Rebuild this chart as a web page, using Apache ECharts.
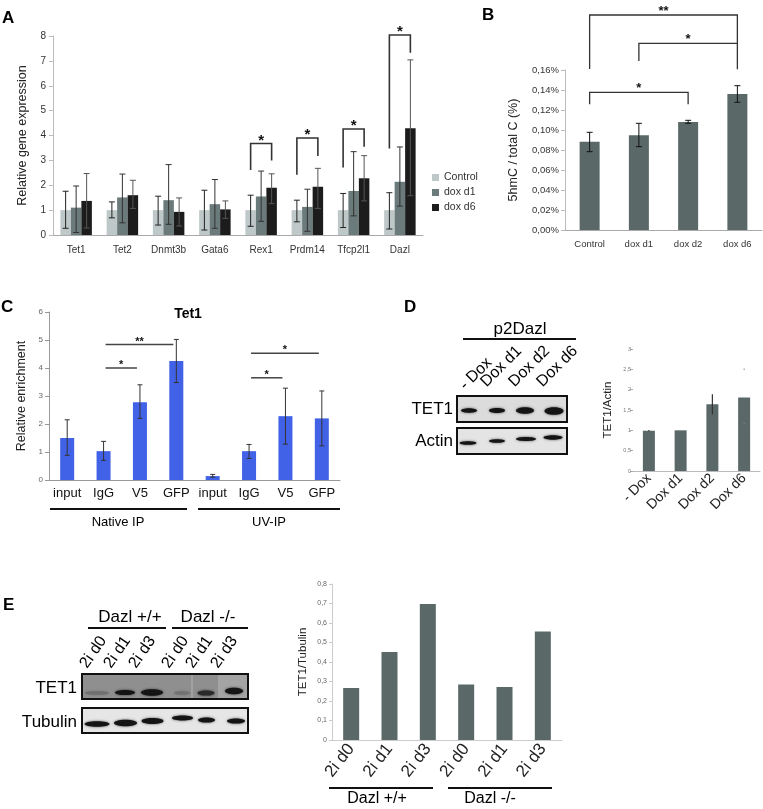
<!DOCTYPE html>
<html><head><meta charset="utf-8">
<script src="https://cdn.jsdelivr.net/npm/echarts@6/dist/echarts.min.js"></script>
<style>html,body{margin:0;padding:0;background:#fff}#c{width:763px;height:809px}</style>
</head><body><div id="c"></div>
<script>
// ---------- DATA ----------
// Panel A
const catA = ['Tet1','Tet2','Dnmt3b','Gata6','Rex1','Prdm14','Tfcp2l1','Dazl'];
const namesA = ['Control','dox d1','dox d6'];
const aCtrl   = [1, 1, 1, 1, 1, 1, 1, 1];
const aCtrlLo = [0.27,0.69,0.40,0.20,0.35,0.53,0.30,0.24];
const aCtrlHi = [1.76,1.33,1.56,1.80,1.60,1.40,1.67,1.70];
const aD1     = [1.10,1.51,1.40,1.24,1.55,1.13,1.77,2.14];
const aD1Lo   = [0.10,0.49,0.43,0.27,0.55,0.15,0.77,1.16];
const aD1Hi   = [1.97,2.45,2.83,2.23,2.57,1.84,3.35,3.54];
const aD6     = [1.37,1.60,0.93,1.03,1.90,1.94,2.28,4.29];
const aD6Lo   = [0.28,1.07,0.36,0.67,1.26,1.07,1.37,1.58];
const aD6Hi   = [2.47,2.20,1.49,1.37,2.46,2.68,3.19,7.04];
// brackets: [category, top, left leg end, right leg end, label]
const aSig = [[4,3.68,2.61,3.00,'*'],[5,3.90,2.42,3.18,'*'],[6,4.26,2.71,3.55,'*'],[7,8.04,3.48,7.33,'*']];

// Panel B (values in %)
const catB = ['Control','dox d1','dox d2','dox d6'];
const bVal = [0.0883,0.0947,0.1080,0.1360];
const bLo  = [0.0783,0.0833,0.1067,0.1277];
const bHi  = [0.0977,0.1067,0.1097,0.1443];
// [left cat, right cat, top, left leg end, right leg end, label]
const bSig = [[0,3,0.2150,0.1610,0.1867,'**'],[1,3,0.1867,0.1690,0.1607,'*'],[0,2,0.1377,0.1257,0.1257,'*']];

// Panel C
const titleC = 'Tet1';
const catC = ['input','IgG','V5','GFP','input','IgG','V5','GFP'];
const cVal = [1.50,1.03,2.78,4.25,0.14,1.03,2.28,2.20];
const cLo  = [0.88,0.70,2.20,3.48,0.10,0.77,1.28,1.22];
const cHi  = [2.15,1.38,3.40,5.02,0.20,1.27,3.28,3.18];
// [left cat, right cat, level, label]
const cSig = [[1,2,4.00,'*'],[1,3,4.84,'**'],[5,6,3.65,'*'],[5,7,4.53,'*']];
const cGroups = ['Native IP','UV-IP'];

// Panel D
const blotD = 'p2Dazl';
const catD = ['- Dox','Dox d1','Dox d2','Dox d6'];
const dVal = [0.99,1.00,1.64,1.81];
const dLo  = [0.98,1.00,1.39,1.15];
const dHi  = [1.01,1.00,1.89,2.52];
const dBlotRows = ['TET1','Actin'];

// Panel E
const catE = ['2i d0','2i d1','2i d3','2i d0','2i d1','2i d3'];
const eVal = [0.267,0.451,0.697,0.285,0.272,0.557];
const eGroups = ['Dazl +/+','Dazl -/-'];
const eBlotRows = ['TET1','Tubulin'];

// ---------- STYLE ----------
const FONT = 'Liberation Sans, Arial, sans-serif';
const colA = ['#bfc8c8','#6b7a7a','#1c1c1c'];
const GREY = '#5b6868';
const BLUE = '#4161e6';
const BW_A = 10.5;
const comma = (v, d) => v.toFixed(d).replace('.', ',');

function errRender(offset, cap, color, lw, faintIdx) {
  return function (params, api) {
    const i = api.value(0);
    const lo = api.coord([i, api.value(1)]);
    const hi = api.coord([i, api.value(2)]);
    const x = lo[0] + offset;
    const st = {stroke: color, lineWidth: lw};
    if (faintIdx === params.dataIndex) {
      return {type: 'group', children: [
        {type: 'line', shape: {x1: x, y1: hi[1], x2: x, y2: hi[1] + 1.5}, style: {stroke: '#888', lineWidth: 1}},
        {type: 'line', shape: {x1: x, y1: lo[1], x2: x, y2: lo[1] - 1.5}, style: {stroke: '#888', lineWidth: 1}}
      ]};
    }
    const ch = [{type: 'line', shape: {x1: x, y1: lo[1], x2: x, y2: hi[1]}, style: st}];
    if (cap > 0) {
      ch.push({type: 'line', shape: {x1: x - cap / 2, y1: hi[1], x2: x + cap / 2, y2: hi[1]}, style: st});
      ch.push({type: 'line', shape: {x1: x - cap / 2, y1: lo[1], x2: x + cap / 2, y2: lo[1]}, style: st});
    }
    return {type: 'group', children: ch};
  };
}
function errSeries(idx, lo, hi, offset, cap, color, lw, faintIdx) {
  return {type: 'custom', xAxisIndex: idx, yAxisIndex: idx, silent: true, z: 5,
    encode: {x: 0, y: [1, 2]},
    data: lo.map((v, i) => [i, v, hi[i]]),
    renderItem: errRender(offset, cap, color, lw, faintIdx)};
}
function txt(x, y, text, font, align, valign, fill, rot) {
  return {type: 'text', x: x, y: y, rotation: rot || 0, silent: true,
    style: {text: text, font: font, fill: fill || '#000',
      textAlign: align || 'center', textVerticalAlign: valign || 'middle',
      align: align || 'center', verticalAlign: valign || 'middle'}};
}
function line(x1, y1, x2, y2, lw, c) {
  return {type: 'line', silent: true, shape: {x1, y1, x2, y2}, style: {stroke: c || '#111', lineWidth: lw || 2}};
}
function rect(x, y, w, h, fill, stroke, lw) {
  return {type: 'rect', silent: true, shape: {x, y, width: w, height: h},
    style: {fill: fill, stroke: stroke || null, lineWidth: lw || 0}};
}
function band(cx, cy, rx, ry, c) {
  return {type: 'ellipse', silent: true, shape: {cx, cy, rx, ry},
    style: {fill: c || '#141414', shadowBlur: 2.5, shadowColor: c || 'rgba(0,0,0,0.7)'}};
}

function axisBase(o) {
  return Object.assign({splitLine: {show: false}}, o);
}

// ---------- OPTION ----------
const grids = [
  {left: 53, top: 36, width: 370, height: 199},
  {left: 565, top: 70, width: 197, height: 160},
  {left: 49, top: 312, width: 291, height: 168},
  {left: 633, top: 349, width: 127, height: 122},
  {left: 332, top: 584, width: 230, height: 156}
].map(g => Object.assign({containLabel: false, outerBoundsMode: 'none'}, g));

const xAxes = [
  axisBase({gridIndex: 0, type: 'category', data: catA,
    axisLine: {lineStyle: {color: '#aaa'}}, axisTick: {length: 4, lineStyle: {color: '#aaa'}},
    axisLabel: {interval: 0, fontSize: 10, color: '#333', margin: 10, fontFamily: FONT}}),
  axisBase({gridIndex: 1, type: 'category', data: catB,
    axisLine: {lineStyle: {color: '#aaa'}}, axisTick: {length: 4, lineStyle: {color: '#aaa'}},
    axisLabel: {interval: 0, fontSize: 9.5, color: '#333', margin: 9, fontFamily: FONT}}),
  axisBase({gridIndex: 2, type: 'category', data: catC,
    axisLine: {lineStyle: {color: '#999'}}, axisTick: {length: 4, lineStyle: {color: '#999'}},
    axisLabel: {interval: 0, fontSize: 13, color: '#111', margin: 7, fontFamily: FONT}}),
  axisBase({gridIndex: 3, type: 'category', data: catD,
    axisLine: {lineStyle: {color: '#bbb'}}, axisTick: {length: 3, lineStyle: {color: '#bbb'}},
    axisLabel: {interval: 0, rotate: 45, fontSize: 14, color: '#222', margin: 5, fontFamily: FONT}}),
  axisBase({gridIndex: 4, type: 'category', data: catE,
    axisLine: {lineStyle: {color: '#ccc'}}, axisTick: {length: 3, lineStyle: {color: '#ccc'}},
    axisLabel: {interval: 0, rotate: 52, fontSize: 17, color: '#222', margin: 6, fontFamily: FONT}})
];
const yAxes = [
  axisBase({gridIndex: 0, type: 'value', min: 0, max: 8, interval: 1,
    axisLine: {show: true, lineStyle: {color: '#bbb'}}, axisTick: {show: true, length: 4, lineStyle: {color: '#bbb'}},
    axisLabel: {fontSize: 10, color: '#333', margin: 7, fontFamily: FONT},
    name: 'Relative gene expression', nameLocation: 'middle', nameGap: 24, nameRotate: 90,
    nameTextStyle: {fontSize: 12.5, color: '#222', fontFamily: FONT}}),
  axisBase({gridIndex: 1, type: 'value', min: 0, max: 0.16, interval: 0.02,
    axisLine: {show: true, lineStyle: {color: '#bbb'}}, axisTick: {show: true, length: 4, lineStyle: {color: '#bbb'}},
    axisLabel: {fontSize: 9.5, color: '#333', margin: 6, fontFamily: FONT, formatter: v => comma(v, 2) + '%'},
    name: '5hmC / total C (%)', nameLocation: 'middle', nameGap: 45, nameRotate: 90,
    nameTextStyle: {fontSize: 12.5, color: '#222', fontFamily: FONT}}),
  axisBase({gridIndex: 2, type: 'value', min: 0, max: 6, interval: 1,
    axisLine: {show: true, lineStyle: {color: '#999'}}, axisTick: {show: true, length: 4, lineStyle: {color: '#999'}},
    axisLabel: {fontSize: 8, color: '#666', margin: 6, fontFamily: FONT},
    name: 'Relative enrichment', nameLocation: 'middle', nameGap: 21, nameRotate: 90,
    nameTextStyle: {fontSize: 12.5, color: '#222', fontFamily: FONT}}),
  axisBase({gridIndex: 3, type: 'value', min: 0, max: 3, interval: 0.5,
    axisLine: {show: false}, axisTick: {show: true, length: 3, lineStyle: {color: '#aaa'}},
    axisLabel: {fontSize: 5.5, color: '#777', margin: 2, fontFamily: FONT,
      formatter: v => Number.isInteger(v) ? String(v) : comma(v, 1)},
    name: 'TET1/Actin', nameLocation: 'middle', nameGap: 19, nameRotate: 90,
    nameTextStyle: {fontSize: 11.5, color: '#222', fontFamily: FONT}}),
  axisBase({gridIndex: 4, type: 'value', min: 0, max: 0.8, interval: 0.1,
    axisLine: {show: true, lineStyle: {color: '#ccc'}}, axisTick: {show: true, length: 3, lineStyle: {color: '#ccc'}},
    axisLabel: {fontSize: 7, color: '#666', margin: 5, fontFamily: FONT,
      formatter: v => v === 0 ? '0' : comma(v, 1)},
    name: 'TET1/Tubulin', nameLocation: 'middle', nameGap: 23, nameRotate: 90,
    nameTextStyle: {fontSize: 11.5, color: '#222', fontFamily: FONT}})
];

const series = [];
// A bars
[aCtrl, aD1, aD6].forEach((d, k) => series.push({
  type: 'bar', name: namesA[k], xAxisIndex: 0, yAxisIndex: 0, data: d,
  barWidth: BW_A, barGap: '0%', itemStyle: {color: colA[k]}, silent: true}));
series.push(errSeries(0, aCtrlLo, aCtrlHi, -BW_A, 6, '#222', 1));
series.push(errSeries(0, aD1Lo, aD1Hi, 0, 6, '#333', 1));
series.push(errSeries(0, aD6Lo, aD6Hi, BW_A, 6, '#555', 1));
series.push({type: 'custom', xAxisIndex: 0, yAxisIndex: 0, silent: true, z: 6,
  encode: {x: 0, y: 1}, data: aSig.map(s => [s[0], s[1], s[2], s[3]]),
  renderItem: (params, api) => {
    const i = api.value(0);
    const t = api.coord([i, api.value(1)]);
    const l = api.coord([i, api.value(2)]);
    const r = api.coord([i, api.value(3)]);
    const lx = t[0] - BW_A, rx = t[0] + BW_A;
    return {type: 'group', children: [
      {type: 'polyline', shape: {points: [[lx, l[1]], [lx, t[1]], [rx, t[1]], [rx, r[1]]]},
        style: {stroke: '#333', lineWidth: 1.6, fill: null}},
      {type: 'text', style: {text: aSig[params.dataIndex][4], x: t[0], y: t[1] - 3,
        font: 'bold 15px ' + FONT, fill: '#111', textAlign: 'center', textVerticalAlign: 'middle',
        align: 'center', verticalAlign: 'middle'}}
    ]};
  }});
// B
series.push({type: 'bar', xAxisIndex: 1, yAxisIndex: 1, data: bVal, barWidth: 20,
  itemStyle: {color: GREY}, silent: true});
series.push(errSeries(1, bLo, bHi, 0, 6, '#111', 1));
series.push({type: 'custom', xAxisIndex: 1, yAxisIndex: 1, silent: true, z: 6,
  encode: {x: 0, y: 2}, data: bSig.map(s => [s[0], s[1], s[2], s[3], s[4]]),
  renderItem: (params, api) => {
    const a = api.value(0), b = api.value(1);
    const L = api.coord([a, api.value(2)]);
    const R = api.coord([b, api.value(2)]);
    const lb = api.coord([a, api.value(3)])[1];
    const rb = api.coord([b, api.value(4)])[1];
    return {type: 'group', children: [
      {type: 'polyline', shape: {points: [[L[0], lb], [L[0], L[1]], [R[0], R[1]], [R[0], rb]]},
        style: {stroke: '#333', lineWidth: 1.3, fill: null}},
      {type: 'text', style: {text: bSig[params.dataIndex][5], x: (L[0] + R[0]) / 2, y: L[1] - 4,
        font: 'bold 13px ' + FONT, fill: '#111', textAlign: 'center', textVerticalAlign: 'middle',
        align: 'center', verticalAlign: 'middle'}}
    ]};
  }});
// C
series.push({type: 'bar', xAxisIndex: 2, yAxisIndex: 2, data: cVal, barWidth: 14,
  itemStyle: {color: BLUE}, silent: true});
series.push(errSeries(2, cLo, cHi, 0, 5, '#333', 1));
series.push({type: 'custom', xAxisIndex: 2, yAxisIndex: 2, silent: true, z: 6,
  encode: {x: 0, y: 2}, data: cSig.map(s => [s[0], s[1], s[2]]),
  renderItem: (params, api) => {
    const L = api.coord([api.value(0), api.value(2)]);
    const R = api.coord([api.value(1), api.value(2)]);
    const x1 = L[0] + 2, x2 = R[0] - 3;
    return {type: 'group', children: [
      {type: 'line', shape: {x1: x1, y1: L[1], x2: x2, y2: L[1]}, style: {stroke: '#444', lineWidth: 1.5}},
      {type: 'text', style: {text: cSig[params.dataIndex][3], x: (x1 + x2) / 2, y: L[1] - 3,
        font: 'bold 11px ' + FONT, fill: '#111', textAlign: 'center', textVerticalAlign: 'middle',
        align: 'center', verticalAlign: 'middle'}}
    ]};
  }});
// D
series.push({type: 'bar', xAxisIndex: 3, yAxisIndex: 3, data: dVal, barWidth: 12,
  itemStyle: {color: GREY}, silent: true});
series.push(errSeries(3, dLo, dHi, 0, 0, '#333', 1.2, 3));
// E
series.push({type: 'bar', xAxisIndex: 4, yAxisIndex: 4, data: eVal, barWidth: 16,
  itemStyle: {color: GREY}, silent: true});

// ---------- GRAPHIC (panel letters, blots, group labels) ----------
const L16 = '16px ' + FONT, L17 = '17px ' + FONT;
const g = [];
g.push(txt(2, 18, 'A', 'bold 17px ' + FONT, 'left'));
g.push(txt(482, 15, 'B', 'bold 17px ' + FONT, 'left'));
g.push(txt(1, 307, 'C', 'bold 17px ' + FONT, 'left'));
g.push(txt(404, 307, 'D', 'bold 17px ' + FONT, 'left'));
g.push(txt(3, 605, 'E', 'bold 17px ' + FONT, 'left'));
// C title + groups
g.push(txt(188, 314, titleC, 'bold 14px ' + FONT));
g.push(line(50, 509, 187, 509, 2), line(198, 509, 340, 509, 2));
g.push(txt(118, 522, cGroups[0], '13px ' + FONT), txt(269, 522, cGroups[1], '13px ' + FONT));
// D blot
g.push(txt(520, 329, blotD, L17));
g.push(line(463, 339, 576, 339, 2));
[[468, 393], [489, 390], [517, 390], [545, 390]].forEach((p, i) =>
  g.push(txt(p[0], p[1], catD[i], L16, 'left', 'bottom', '#000', Math.PI / 4)));
g.push(rect(457, 396, 110, 26, '#dcdcdc', '#111', 2));
g.push(rect(457, 428, 110, 26, '#e4e4e4', '#111', 2));
g.push(txt(453, 409, dBlotRows[0], L17, 'right'), txt(453, 441, dBlotRows[1], L17, 'right'));
g.push(band(469, 410.5, 8, 2.3), band(497, 410.5, 8, 2.5), band(525, 410.5, 9, 3.3), band(554, 411, 9.5, 3.8));
g.push(band(468, 443, 8.5, 1.8), band(497, 441, 8, 1.8), band(526, 439, 10, 2), band(553, 437.5, 9.5, 2.2));
// E blot
g.push(txt(130, 617, eGroups[0], L17), txt(208, 617, eGroups[1], L17));
g.push(line(88, 628, 166, 628, 2), line(172, 628, 248, 628, 2));
[[90, 671], [114, 671], [139, 671], [172, 671], [196, 671], [221, 671]].forEach((p, i) =>
  g.push(txt(p[0], p[1], catE[i], L16, 'left', 'bottom', '#000', 0.96)));
g.push(rect(82, 674, 166, 25, '#8f8f8f', '#111', 2));
g.push(rect(191, 675, 2, 23, '#a2a2a2'));
g.push(rect(218, 675, 29, 23, '#a4a4a4'));
g.push(rect(82, 708, 166, 25, '#e6e6e6', '#111', 2));
g.push(txt(77, 688, eBlotRows[0], L17, 'right'), txt(77, 722, eBlotRows[1], L17, 'right'));
g.push(band(97, 693, 12, 1.8, '#6f6f6f'), band(125, 692.5, 10, 2.6), band(152, 692.5, 11, 3.2),
  band(182, 693, 8, 1.8, '#727272'), band(206, 693, 8.5, 2.6, '#2a2a2a'), band(234, 691, 9, 3.2));
g.push(band(97, 724, 12.5, 2.8), band(125.5, 723, 11.5, 3.2), band(152.5, 721, 11, 3),
  band(182.5, 718, 10.5, 2.5), band(206.5, 720, 8.5, 2.6), band(236, 721, 9, 2.6));
// E chart groups
g.push(line(329, 788, 433, 788, 2), line(448, 788, 552, 788, 2));
g.push(txt(377, 799, eGroups[0], L16), txt(490, 799, eGroups[1], L16));

const option = {
  animation: false,
  backgroundColor: '#fff',
  textStyle: {fontFamily: FONT},
  grid: grids, xAxis: xAxes, yAxis: yAxes,
  legend: {data: namesA, orient: 'vertical', left: 432, top: 172, padding: 0,
    itemWidth: 7, itemHeight: 7, itemGap: 4, icon: 'rect', selectedMode: false,
    textStyle: {fontSize: 10.5, color: '#333', fontFamily: FONT}},
  series: series,
  graphic: g
};
const chart = echarts.init(document.getElementById('c'), null, {renderer: 'canvas'});
chart.setOption(option);
</script></body></html>
